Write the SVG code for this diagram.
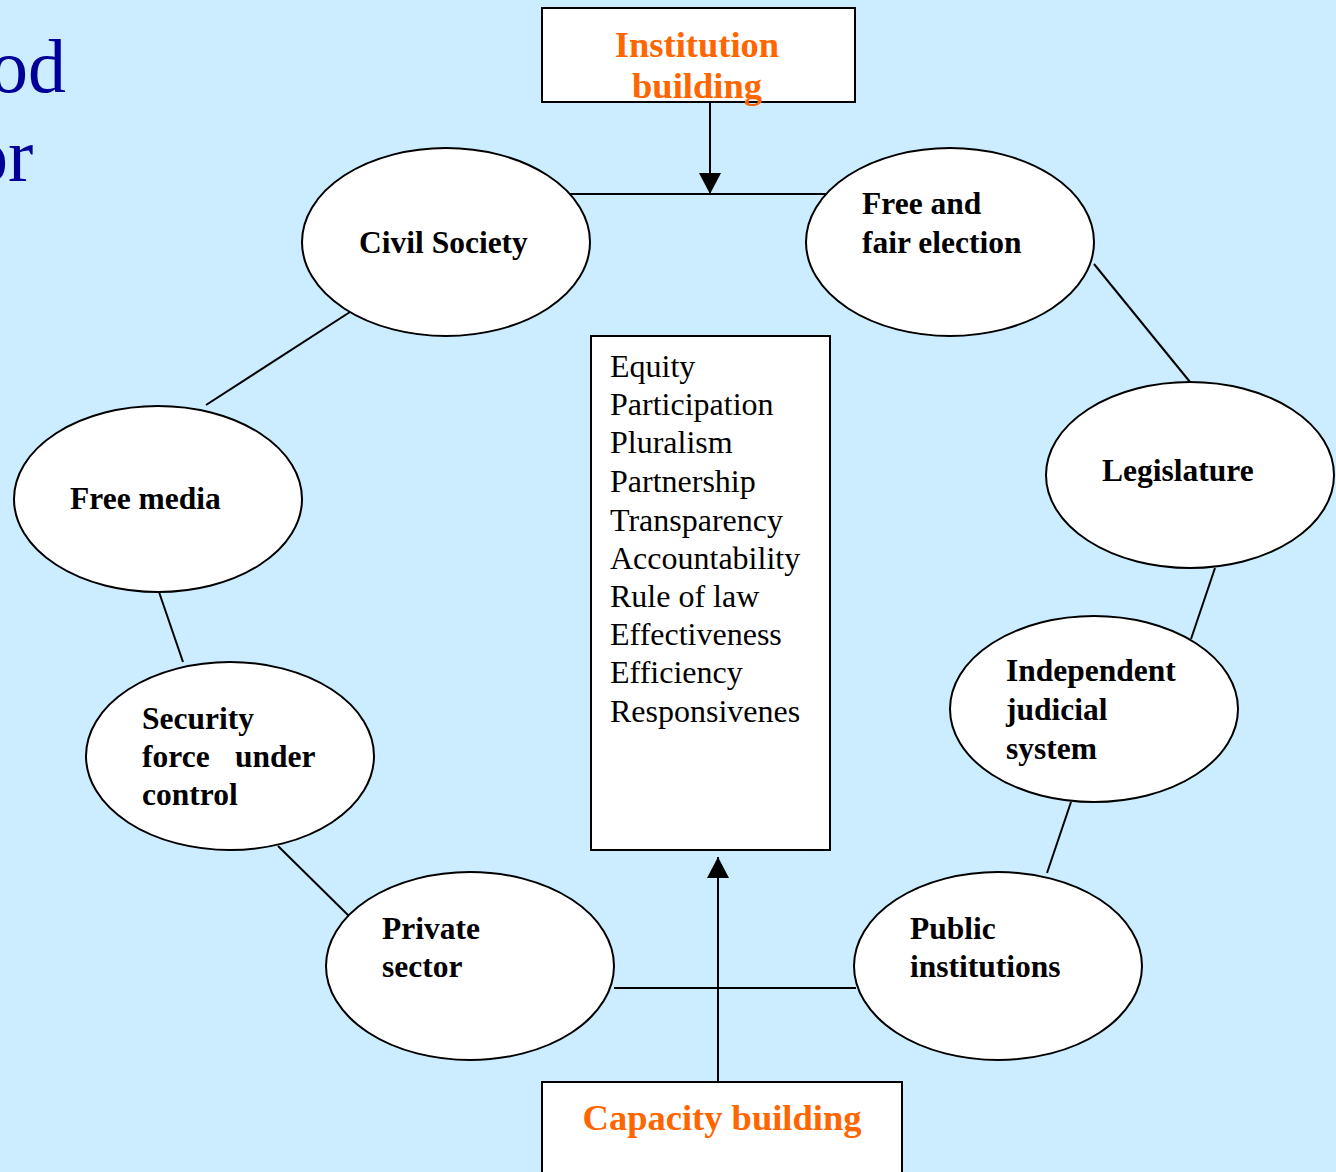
<svg xmlns="http://www.w3.org/2000/svg" width="1336" height="1172" viewBox="0 0 1336 1172">
<defs>
<style>
.bg{fill:#CCECFF}
.node{fill:#fff;stroke:#000;stroke-width:2}
.box{fill:#fff;stroke:#000;stroke-width:2}
text{font-family:'Liberation Serif','Times New Roman',Tinos,'DejaVu Serif',serif}
.lbl{font-weight:bold;font-size:31.5px;fill:#000}
.ttl{font-weight:bold;font-size:36.5px;fill:#FF6600}
.val{font-size:32px;fill:#000}
.head{font-size:76px;fill:#000099}
.conn line{stroke:#000;stroke-width:2}
</style>
<marker id="arrB" viewBox="0 0 22 22" refX="21" refY="11" markerWidth="22" markerHeight="22" markerUnits="userSpaceOnUse" orient="auto">
<path d="M0,0 L21,11 L0,22 Z" fill="#000"/>
</marker>
</defs>
<rect class="bg" x="0" y="0" width="1336" height="1172"/>
<g id="heading">
<text class="head" x="-10" y="92">od</text>
<text class="head" x="-30" y="181">or</text>
</g>
<g id="connectors" class="conn">
<line x1="566" y1="194" x2="830" y2="194"/>
<line x1="710" y1="102" x2="710" y2="194" marker-end="url(#arrB)"/>
<line x1="350" y1="312" x2="206" y2="405"/>
<line x1="159" y1="592" x2="183" y2="662"/>
<line x1="278" y1="846" x2="351" y2="918"/>
<line x1="614" y1="988" x2="856" y2="988"/>
<line x1="718" y1="1082" x2="718" y2="857" marker-end="url(#arrB)"/>
<line x1="1047" y1="873" x2="1071" y2="802"/>
<line x1="1191" y1="639" x2="1215" y2="568"/>
<line x1="1190" y1="382" x2="1094" y2="264"/>
</g>
<g id="institution-building">
<rect class="box" x="542" y="8" width="313" height="94"/>
<text class="ttl" x="697" y="57" text-anchor="middle">Institution</text>
<text class="ttl" x="697" y="98" text-anchor="middle">building</text>
</g>
<g id="capacity-building">
<rect class="box" x="542" y="1082" width="360" height="100"/>
<text class="ttl" x="722" y="1130" text-anchor="middle">Capacity building</text>
</g>
<g id="values">
<rect class="box" x="591" y="336" width="239" height="514"/>
<text class="val" x="610" y="377">Equity</text>
<text class="val" x="610" y="415">Participation</text>
<text class="val" x="610" y="453">Pluralism</text>
<text class="val" x="610" y="492">Partnership</text>
<text class="val" x="610" y="531">Transparency</text>
<text class="val" x="610" y="569">Accountability</text>
<text class="val" x="610" y="607">Rule of law</text>
<text class="val" x="610" y="645">Effectiveness</text>
<text class="val" x="610" y="683">Efficiency</text>
<text class="val" x="610" y="722">Responsivenes</text>
</g>
<g id="civil-society">
<ellipse class="node" cx="446" cy="242" rx="144" ry="94"/>
<text class="lbl" x="359" y="253">Civil Society</text>
</g>
<g id="free-fair-election">
<ellipse class="node" cx="950" cy="242" rx="144" ry="94"/>
<text class="lbl" x="862" y="214">Free and</text>
<text class="lbl" x="862" y="253">fair election</text>
</g>
<g id="free-media">
<ellipse class="node" cx="158" cy="499" rx="144" ry="93"/>
<text class="lbl" x="70" y="509">Free media</text>
</g>
<g id="legislature">
<ellipse class="node" cx="1190" cy="475" rx="144" ry="93"/>
<text class="lbl" x="1102" y="481">Legislature</text>
</g>
<g id="security-force">
<ellipse class="node" cx="230" cy="756" rx="144" ry="94"/>
<text class="lbl" x="142" y="729">Security</text>
<text class="lbl" x="142" y="767">force</text>
<text class="lbl" x="235" y="767">under</text>
<text class="lbl" x="142" y="805">control</text>
</g>
<g id="judicial-system">
<ellipse class="node" cx="1094" cy="709" rx="144" ry="93"/>
<text class="lbl" x="1006" y="681">Independent</text>
<text class="lbl" x="1006" y="720">judicial</text>
<text class="lbl" x="1006" y="759">system</text>
</g>
<g id="private-sector">
<ellipse class="node" cx="470" cy="966" rx="144" ry="94"/>
<text class="lbl" x="382" y="939">Private</text>
<text class="lbl" x="382" y="977">sector</text>
</g>
<g id="public-institutions">
<ellipse class="node" cx="998" cy="966" rx="144" ry="94"/>
<text class="lbl" x="910" y="939">Public</text>
<text class="lbl" x="910" y="977">institutions</text>
</g>
</svg>
